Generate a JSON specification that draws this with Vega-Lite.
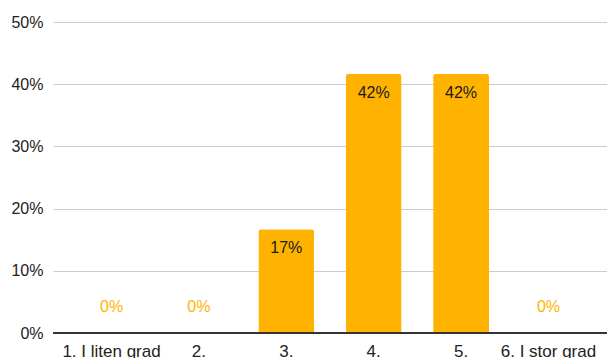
{
  "$schema": "https://vega.github.io/schema/vega-lite/v6.json",
  "autosize": "none",
  "width": 554,
  "height": 311,
  "padding": {"left": 53, "top": 22, "right": 0, "bottom": 25},
  "background": "white",
  "config": {
    "view": {"stroke": null},
    "font": "Liberation Sans",
    "axis": {"labelFont": "Liberation Sans", "labelFontSize": 16, "labelColor": "#222222", "ticks": false, "title": null, "labelOverlap": false, "labelBound": false, "labelFlush": false}
  },
  "data": {
    "values": [
      {"cat": "1. I liten grad", "value": 0},
      {"cat": "2.", "value": 0},
      {"cat": "3.", "value": 0.1667},
      {"cat": "4.", "value": 0.4167},
      {"cat": "5.", "value": 0.4167},
      {"cat": "6. I stor grad", "value": 0}
    ]
  },
  "encoding": {
    "x": {
      "field": "cat", "type": "nominal", "sort": null,
      "scale": {"paddingInner": 0.36, "paddingOuter": 0.35},
      "axis": {"labelAngle": 0, "labelFontSize": 17, "domainColor": "#333333", "domainWidth": 1, "labelPadding": 10, "grid": false}
    },
    "y": {
      "field": "value", "type": "quantitative",
      "scale": {"domain": [0, 0.5]},
      "axis": {"format": ".0%", "values": [0, 0.1, 0.2, 0.3, 0.4, 0.5], "domain": false, "gridColor": "#cccccc", "labelPadding": 10}
    }
  },
  "layer": [
    {
      "mark": {"type": "bar", "color": "#ffb300", "cornerRadiusTopLeft": 3, "cornerRadiusTopRight": 3}
    },
    {
      "transform": [{"filter": "datum.value > 0"}],
      "mark": {"type": "text", "dy": 19, "baseline": "middle", "fontSize": 16, "color": "#1a1a1a"},
      "encoding": {"text": {"field": "value", "type": "quantitative", "format": ".0%"}}
    },
    {
      "transform": [{"filter": "datum.value == 0"}],
      "mark": {"type": "text", "dy": -26, "baseline": "middle", "fontSize": 16, "color": "#ffb300"},
      "encoding": {"text": {"field": "value", "type": "quantitative", "format": ".0%"}}
    },
    {
      "mark": {"type": "rule", "color": "#333333", "strokeWidth": 1},
      "encoding": {"x": {"value": 0}, "x2": {"value": 554}, "y": {"datum": 0}}
    }
  ]
}
